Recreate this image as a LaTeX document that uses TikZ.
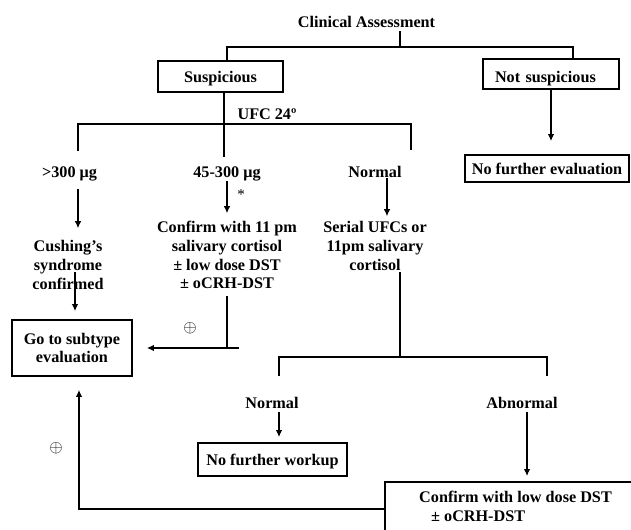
\documentclass[tikz,border=0pt]{standalone}
\usepackage{fontspec}
\setmainfont{Liberation Serif}
\usetikzlibrary{arrows.meta}
\newcommand{\lblfont}{\fontsize{16.2bp}{18.7bp}\selectfont\bfseries}

\begin{document}
\begin{tikzpicture}[x=1bp,y=-1bp,
  lbl/.style={font=\lblfont,inner sep=0pt,align=center},
  panel/.style={draw,line width=1.8bp,font=\lblfont,inner sep=0pt,align=center,text depth=0pt},
  wire/.style={line width=1.4bp},
  link/.style={line width=1.1bp,-{Latex[length=7bp,width=6.5bp]}},
  sign/.style={font=\fontsize{17bp}{17bp}\selectfont,inner sep=0pt}]
\useasboundingbox (0,0) rectangle (631,530);
\fill[white] (0,0) rectangle (631,530);
\clip (0,0) rectangle (631,530);

\node[lbl,anchor=base] (ca) at (366.5,27.4) {Clinical Assessment};
\node[panel,minimum width=125bp,minimum height=31bp] (susp) at (220.5,76.5) {Suspicious};
\node[panel,minimum height=30bp,inner xsep=12bp,text width=112bp,text height=17bp,align=left] (nsusp) at (551,74) {Not suspicious};
\node[lbl,anchor=base] (ufc) at (267,119.4) {UFC 24º};
\node[lbl,anchor=base] (hi) at (69.5,177.4) {>300 μg};
\node[lbl,anchor=base] (mid) at (227,177.4) {45-300 μg};
\node[lbl,anchor=base] (nrm) at (375,177.4) {Normal};
\node[panel,minimum width=164bp,minimum height=27bp] (nfe) at (547,168.5) {No further evaluation};
\node[font=\fontsize{15bp}{15bp}\selectfont,inner sep=0pt] (star) at (241,195) {*};
\node[lbl,anchor=north] (cush) at (68,240.2) {Cushing’s\\syndrome\\confirmed};
\node[lbl,anchor=north] (cnf) at (227,221.2) {Confirm with 11 pm\\salivary cortisol\\± low dose DST\\± oCRH-DST};
\node[lbl,anchor=north] (ser) at (375,221.2) {Serial UFCs or\\11pm salivary\\cortisol};
\node[panel,minimum width=120bp,minimum height=56bp] (sub) at (72,348) {Go to subtype\\evaluation};
\node[sign] (plusa) at (190,328) {$\oplus$};
\node[sign] (plusb) at (56,448) {$\oplus$};
\node[lbl,anchor=base] (nrmb) at (272,408.4) {Normal};
\node[lbl,anchor=base] (abn) at (522,408.4) {Abnormal};
\node[panel,minimum width=149bp,minimum height=33bp] (nfw) at (272.5,459.5) {No further workup};
\node[panel,anchor=north west,minimum width=300bp,minimum height=80bp] (low) at (384,481) {};
\node[lbl,anchor=north west,align=left] (lowtxt) at (419,491.2) {Confirm with low dose DST\\\hspace*{12bp}± oCRH-DST};

\coordinate (top) at (400,47);
\coordinate (topl) at (227,47);
\coordinate (topr) at (573,47);
\coordinate (ufcm) at (224,124);
\coordinate (ufcl) at (78,124);
\coordinate (ufcr) at (411,124);
\coordinate (nrmcol) at (387,200);
\coordinate (cushcol) at (75,300);
\coordinate (cnfend) at (239,348);
\coordinate (serj) at (400,357);
\coordinate (serl) at (279,357);
\coordinate (serr) at (547,357);
\coordinate (abncol) at (527,440);
\coordinate (back) at (79,509);

\draw[wire,shorten <=3.6bp] (ca.south -| top) -- (top);
\draw[wire] (susp.north -| topl) -- (topl) -- (topr) -- (nsusp.north -| topr);
\draw[wire,shorten >=9bp] (susp.south -| ufcm) -- (mid.north -| ufcm);
\draw[wire,shorten <=15bp,shorten >=16bp] (hi.north -| ufcl) -- (ufcl) -- (ufcr) -- (nrm.north -| ufcr);
\draw[link,shorten >=13bp] (nsusp.south) -- (nsusp.south |- nfe.north);
\draw[link,shorten <=8bp,shorten >=12bp] (hi.south -| ufcl) -- (cush.north -| ufcl);
\draw[link,shorten >=8bp] (mid.south) -- (mid.south |- cnf.north);
\draw[link,shorten >=5bp] (nrm.south -| nrmcol) -- (ser.north -| nrmcol);
\draw[link,shorten <=-17bp,shorten >=8bp] (cush.south -| cushcol) -- (sub.north -| cushcol);
\draw[wire,shorten <=6.5bp] (cnf.south) -- (cnf.south |- cnfend);
\draw[link,shorten >=14bp] (cnfend) -- (sub.east);
\draw[wire,shorten <=2bp] (ser.south -| serj) -- (serj);
\draw[wire,shorten <=21bp,shorten >=21bp] (nrmb.north -| serl) -- (serl) -- (serr) -- (abn.north -| serr);
\draw[link,shorten <=3.6bp,shorten >=5bp] (nrmb.south -| serl) -- (nfw.north -| serl);
\draw[link,shorten <=3.6bp,shorten >=5bp] (abn.south -| abncol) -- (low.north -| abncol);
\draw[link,shorten >=13bp] (low.west |- back) -- (back) -- (back |- sub.south);
\end{tikzpicture}
\end{document}
